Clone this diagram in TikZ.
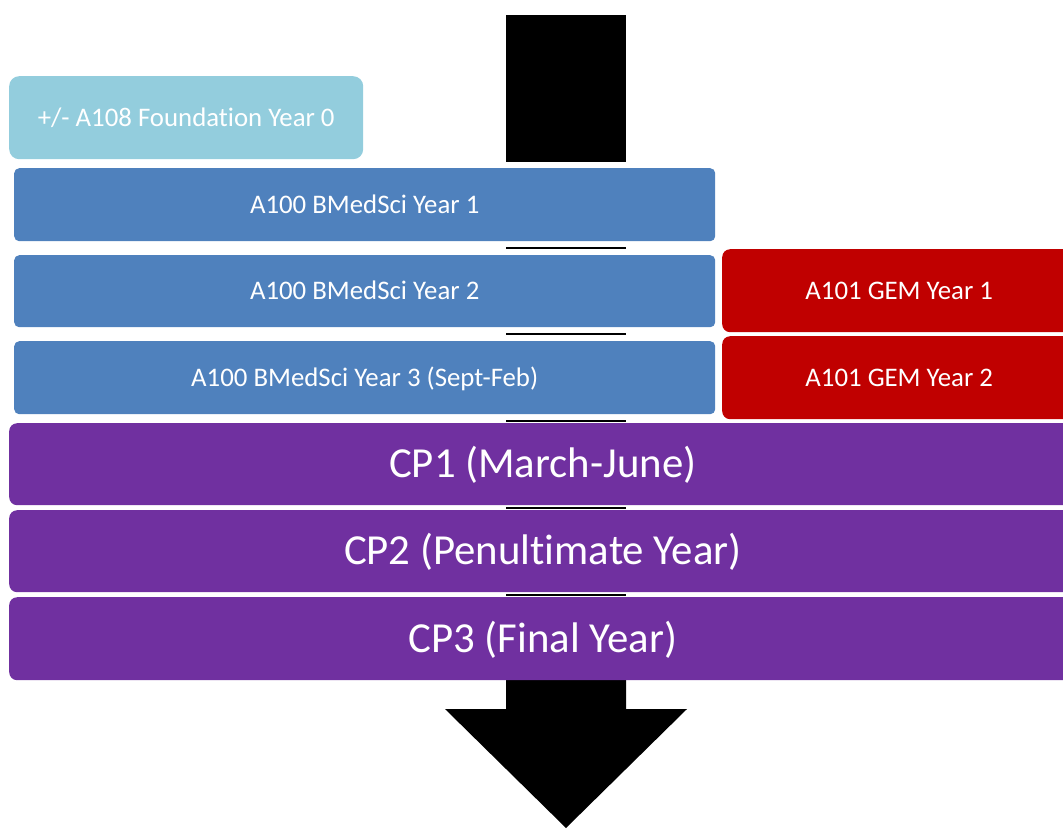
\documentclass[tikz,border=0pt]{standalone}
\usepackage{fontspec}
\setmainfont{Carlito}[Ligatures=NoCommon]
\usepackage{xcolor}
\usetikzlibrary{positioning}

\definecolor{foundblue}{HTML}{93CDDD}
\definecolor{medblue}{HTML}{4F81BD}
\definecolor{gemred}{HTML}{C00000}
\definecolor{cppurple}{HTML}{7030A0}

\begin{document}
\begin{tikzpicture}[x=1pt,y=-1pt,
		stage/.style={fill=#1, text=white, inner sep=0pt, anchor=north west,
			rounded corners=8pt, font=\fontsize{26.8}{30}\selectfont,
			text height=17pt, text depth=0pt},
		cpstage/.style={stage=cppurple, font=\fontsize{42.8}{48}\selectfont,
			text height=27pt, minimum width=1067pt}]
		% Drawing units are the pixels of the page, y running downwards.
		\def\bw{701}
		\def\gw{354}

		\useasboundingbox (0,0) rectangle (1063,828);
		\clip (0,0) rectangle (1063,828);

		% The long arrow behind the stages.  Only its ends are seen,
		% and a thin line of the shaft in each gap.
		\fill[black] (506,15) rectangle (626,162);
		\fill[black] (506,680) -- (506,709) -- (445,709) -- (566,828)
			-- (687,709) -- (626,709) -- (626,680) -- cycle;
		\foreach \y in {248,334,421,508,595} {
			\draw[line width=2pt] (506,\y) -- (626,\y);
		}

		% Entry year and the BMedSci years.
		\node[stage=foundblue, rounded corners=10pt, minimum width=354pt,
			minimum height=83pt] (yr0) at (9,76) {+/- A108 Foundation Year 0};
		\node[stage=medblue, rounded corners=5pt, minimum width=\bw pt,
			minimum height=73pt] (yr1) at (14,168) {A100 BMedSci Year 1};
		\node[stage=medblue, rounded corners=5pt, minimum width=\bw pt,
			minimum height=72pt] (yr2) at (14,255) {A100 BMedSci Year 2};
		\node[stage=medblue, rounded corners=5pt, minimum width=\bw pt,
			minimum height=73pt] (yr3) at (14,341) {A100 BMedSci Year 3 (Sept-Feb)};

		% Graduate entry, beside years 2 and 3.
		\node[stage=gemred, minimum width=\gw pt, minimum height=83pt]
			(gem1) at (722,249) {A101 GEM Year 1};
		\node[stage=gemred, minimum width=\gw pt, minimum height=83pt]
			(gem2) at (722,336) {A101 GEM Year 2};

		% Clinical phases, common to both routes.
		\node[cpstage, minimum height=82pt] (cp1) at (9,423) {CP1 (March-June)};
		\node[cpstage, minimum height=82pt] (cp2) at (9,510) {CP2 (Penultimate Year)};
		\node[cpstage, minimum height=83pt] (cp3) at (9,597) {CP3 (Final Year)};
	\end{tikzpicture}
\end{document}
